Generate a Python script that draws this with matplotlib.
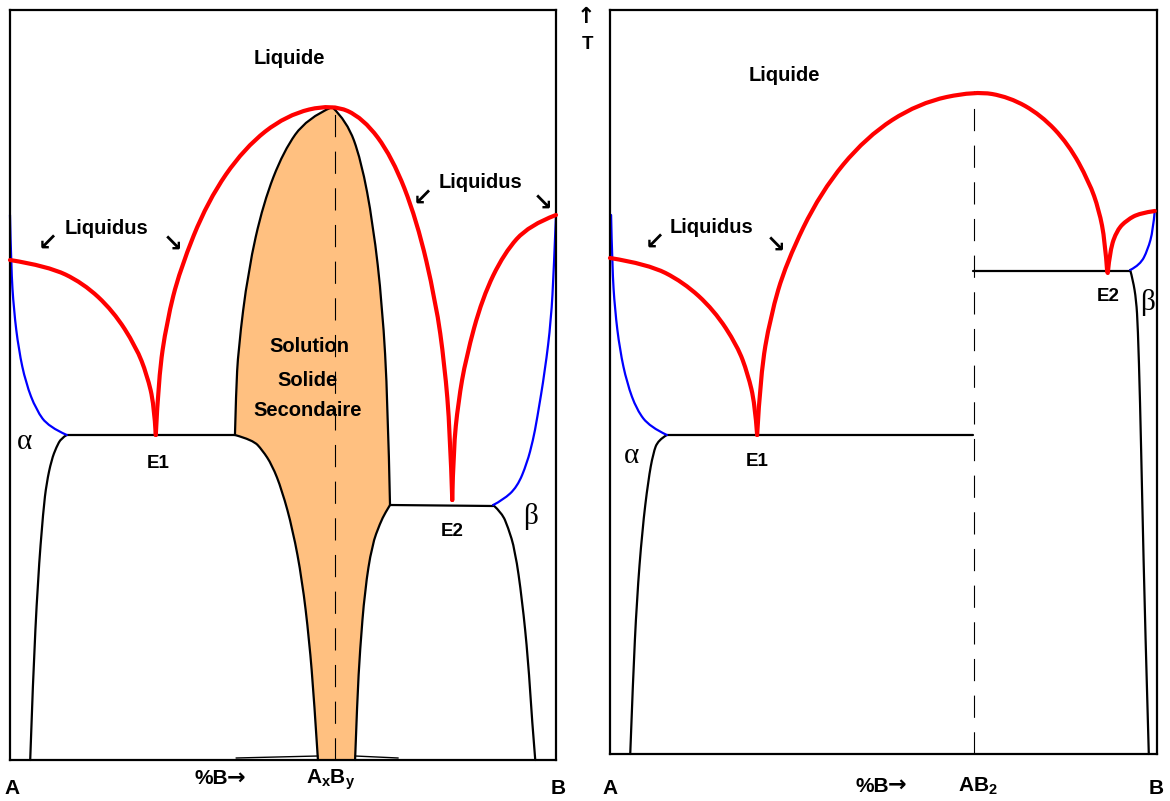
import matplotlib as mpl
from matplotlib import pyplot as plt
from matplotlib.path import Path
from matplotlib.patches import PathPatch

mpl.rc('font', family=['Liberation Sans', 'DejaVu Sans'])
mpl.rc('mathtext', fontset='custom', rm='Liberation Sans', bf='Liberation Sans:bold')

RED = '#ff0000'
BLUE = '#0000ff'
ORANGE = '#ffc080'

##############################################################
# left diagram: congruent compound AxBy with a solid solution
# composition in %B, temperature in arbitrary units
##############################################################

l_liq_a_x = [0, 6.9, 13.4, 18.9, 23.1, 25.1, 26.4, 26.7]
l_liq_a_T = [500, 494, 477, 449, 413, 385, 355, 325]

l_liq_mid_x = [26.7, 27.2, 28.7, 31.1, 36.2, 42.9, 50.6, 59.0,
               64.7, 70.0, 74.5, 78.0, 79.6, 80.6, 81.0]
l_liq_mid_T = [325, 382, 438, 490, 559, 612, 645, 656,
               642, 603, 540, 458, 395, 329, 260]

l_liq_b_x = [81.0, 81.2, 82.1, 83.5, 86.5, 90.5, 95.1, 100]
l_liq_b_T = [260, 310, 358, 402, 462, 507, 535, 545]

l_sol_a_x = [0, 0.2, 0.7, 1.6, 2.9, 4.8, 7.1, 10.4]
l_sol_a_T = [545, 493, 450, 410, 377, 350, 333, 325]

l_solv_a_x = [10.4, 9.4, 8.5, 7.6, 6.7, 6.1, 5.1, 4.2, 3.7]
l_solv_a_T = [325, 322, 313, 300, 277, 250, 180, 80, 0]

l_eut1_x = [10.4, 41.2]
l_eut1_T = [325, 325]

# intermediate solid solution, above and below the eutectics
l_ss_left_x = [41.2, 41.4, 41.8, 43.6, 46.4, 50.1, 54.4, 59.0]
l_ss_left_T = [325, 368, 410, 489, 557, 609, 642, 653]
l_ss_right_x = [59.0, 61.7, 64.3, 66.5, 68.2, 69.2, 69.6]
l_ss_right_T = [653, 639, 600, 536, 454, 358, 255]
l_ss_low_left_x = [41.2, 44.5, 46.2, 48.0, 49.8, 51.8, 53.5, 54.8, 55.7, 56.4]
l_ss_low_left_T = [325, 320, 310, 295, 270, 230, 180, 120, 60, 0]
l_ss_low_right_x = [69.6, 68.7, 67.8, 66.3, 65.0, 64.1, 63.6, 63.2]
l_ss_low_right_T = [255, 247, 237, 215, 170, 110, 60, 0]

l_foot_left_x = [41.4, 56.4]
l_foot_left_T = [2, 4]
l_foot_right_x = [63.2, 71.1]
l_foot_right_T = [4, 2]

l_eut2_x = [69.6, 88.5]
l_eut2_T = [255, 254]

l_sol_b_x = [88.5, 90.3, 92.9, 94.7, 95.8, 96.5, 98.0, 99.1, 99.6, 100]
l_sol_b_T = [255, 260, 273, 297, 320, 340, 390, 440, 490, 545]

l_solv_b_x = [88.5, 90.1, 91.2, 92.5, 93.8, 94.9, 95.6, 96.2]
l_solv_b_T = [255, 247, 233, 210, 160, 100, 40, 0]

l_compound_x = 59.5
l_compound_T = 656

##############################################################
# right diagram: compound AB2 between two eutectics
##############################################################

r_liq_a_x = [0, 6.9, 13.4, 19.0, 23.3, 25.2, 26.5, 26.9]
r_liq_a_T = [496, 490, 472, 444, 408, 380, 350, 319]

r_liq_mid_x = [26.9, 27.5, 29.3, 32.2, 38.5, 46.8, 56.4, 66.7,
               73.0, 78.8, 83.8, 87.6, 89.4, 90.5, 90.9]
r_liq_mid_T = [319, 379, 437, 491, 562, 617, 651, 663,
               657, 639, 610, 572, 544, 513, 482]

r_liq_b_x = [91.0, 91.4, 92.7, 94.5, 96.9, 99.6]
r_liq_b_T = [481, 504, 524, 534, 541, 543]

r_sol_a_x = [0.2, 0.4, 0.9, 1.8, 3.1, 4.9, 7.3, 10.4]
r_sol_a_T = [539, 487, 444, 404, 371, 344, 327, 319]

r_solv_a_x = [10.4, 8.8, 7.9, 7.0, 5.9, 4.9, 4.2, 3.7]
r_solv_a_T = [319, 314, 301, 274, 224, 154, 74, 0]

r_eut1_x = [10.4, 66.4]
r_eut1_T = [319, 319]

r_eut2_x = [66.4, 95.1]
r_eut2_T = [483, 483]

r_sol_b_x = [95.1, 96.9, 98.3, 99.3, 99.6]
r_sol_b_T = [484, 489, 504, 524, 544]

r_solv_b_x = [95.1, 95.6, 96.2, 96.5, 96.9, 97.3, 97.8, 98.5]
r_solv_b_T = [484, 474, 454, 427, 354, 254, 134, 0]

r_compound_x = 66.6
r_compound_T = 663


def smooth(x, T):
    # quadratic pieces through the midpoints, ends kept in place
    pts = list(zip(x, T))
    if len(pts) == 2:
        return [pts[0], pts[1]], [Path.MOVETO, Path.LINETO]
    verts, codes = [pts[0]], [Path.MOVETO]
    for i in range(1, len(pts) - 1):
        if i < len(pts) - 2:
            end = ((pts[i][0] + pts[i + 1][0]) / 2, (pts[i][1] + pts[i + 1][1]) / 2)
        else:
            end = pts[-1]
        verts += [pts[i], end]
        codes += [Path.CURVE3, Path.CURVE3]
    return verts, codes


def curve(ax, x, T, color='k', lw=1.6, zorder=3):
    verts, codes = smooth(x, T)
    ax.add_patch(PathPatch(Path(verts, codes), fill=False, edgecolor=color, lw=lw,
                           capstyle='round', joinstyle='round', clip_on=False,
                           zorder=zorder))


def region(ax, pieces, color):
    verts, codes = [], []
    for x, T in pieces:
        v, c = smooth(x, T)
        if codes:
            c = [Path.LINETO] + c[1:]
        verts += v
        codes += c
    verts.append(verts[0])
    codes.append(Path.CLOSEPOLY)
    ax.add_patch(PathPatch(Path(verts, codes), facecolor=color, lw=0, zorder=1))


def bold(ax, x, T, s, size=14.5, **kw):
    kw.setdefault('ha', 'center')
    ax.text(x, T, s, va='center', fontsize=size, fontweight='bold', **kw)


def arrow(ax, x, T, s, size=17):
    ax.text(x, T, s, ha='center', va='center', fontsize=size,
            fontweight='bold', family='DejaVu Sans')


def greek(ax, x, T, s):
    ax.text(x, T, s, ha='center', va='center', fontsize=21,
            family='Liberation Serif')


def setup(ax, tmax):
    ax.set_xlim(0, 100)
    ax.set_ylim(0, tmax)
    ax.set_xticks([])
    ax.set_yticks([])
    for sp in ax.spines.values():
        sp.set_linewidth(1.6)
        sp.set_zorder(5)


fig = plt.figure(figsize=(11.7, 8.01), dpi=100)
ax1 = fig.add_axes([10 / 1170, 41 / 801, 546 / 1170, 750 / 801])
ax2 = fig.add_axes([610 / 1170, 47 / 801, 547 / 1170, 744 / 801])
setup(ax1, 750)
setup(ax2, 744)

# ---------------- left ----------------
region(ax1, [(l_ss_low_left_x[::-1], l_ss_low_left_T[::-1]),
             (l_ss_left_x, l_ss_left_T),
             (l_ss_right_x, l_ss_right_T),
             (l_ss_low_right_x, l_ss_low_right_T)], ORANGE)

ax1.plot([l_compound_x, l_compound_x], [0, l_compound_T], color='k', lw=0.8,
         dashes=(20, 13), zorder=2)

for x, T in [(l_solv_a_x, l_solv_a_T), (l_eut1_x, l_eut1_T),
             (l_ss_left_x, l_ss_left_T), (l_ss_right_x, l_ss_right_T),
             (l_ss_low_left_x, l_ss_low_left_T), (l_ss_low_right_x, l_ss_low_right_T),
             (l_eut2_x, l_eut2_T), (l_solv_b_x, l_solv_b_T)]:
    curve(ax1, x, T)
curve(ax1, l_foot_left_x, l_foot_left_T, lw=1.0)
curve(ax1, l_foot_right_x, l_foot_right_T, lw=1.0)

curve(ax1, l_sol_a_x, l_sol_a_T, BLUE, 1.6, 4)
curve(ax1, l_sol_b_x, l_sol_b_T, BLUE, 1.6, 4)
curve(ax1, l_liq_a_x, l_liq_a_T, RED, 3, 6)
curve(ax1, l_liq_mid_x, l_liq_mid_T, RED, 3, 6)
curve(ax1, l_liq_b_x, l_liq_b_T, RED, 3, 6)

bold(ax1, 51.1, 702, 'Liquide')
bold(ax1, 17.6, 532, 'Liquidus')
arrow(ax1, 6.8, 516, '↙')
arrow(ax1, 29.7, 515, '↘')
bold(ax1, 86.1, 577, 'Liquidus')
arrow(ax1, 75.6, 561, '↙')
arrow(ax1, 97.6, 556, '↘')
bold(ax1, 54.9, 413, 'Solution')
bold(ax1, 54.4, 379, 'Solide')
bold(ax1, 54.6, 350, 'Secondaire')
bold(ax1, 27.1, 296, 'E1', 13.5)
bold(ax1, 81.0, 229, 'E2', 13.5)
greek(ax1, 2.6, 318, 'α')
greek(ax1, 95.4, 243, 'β')

bold(ax1, 0.4, -29, 'A', 15)
bold(ax1, 33.7, -19, '%B', 15, ha='left')
arrow(ax1, 41.4, -18, '→', 16)
bold(ax1, 58.8, -20, r'$\mathbf{A_{x}B_{y}}$', 15)
bold(ax1, 100.4, -29, 'B', 15)

# ---------------- right ----------------
ax2.plot([r_compound_x, r_compound_x], [0, r_compound_T], color='k', lw=0.8,
         dashes=(20, 13), zorder=2)

for x, T in [(r_solv_a_x, r_solv_a_T), (r_eut1_x, r_eut1_T),
             (r_eut2_x, r_eut2_T), (r_solv_b_x, r_solv_b_T)]:
    curve(ax2, x, T)

curve(ax2, r_sol_a_x, r_sol_a_T, BLUE, 1.6, 4)
curve(ax2, r_sol_b_x, r_sol_b_T, BLUE, 1.6, 4)
curve(ax2, r_liq_a_x, r_liq_a_T, RED, 3, 6)
curve(ax2, r_liq_mid_x, r_liq_mid_T, RED, 3, 6)
curve(ax2, r_liq_b_x, r_liq_b_T, RED, 3, 6)

bold(ax2, 31.8, 678, 'Liquide')
bold(ax2, 18.6, 526, 'Liquidus')
arrow(ax2, 8.2, 511, '↙')
arrow(ax2, 30.2, 508, '↘')
bold(ax2, 26.9, 292, 'E1', 13.5)
bold(ax2, 91.0, 457, 'E2', 13.5)
greek(ax2, 4.0, 298, 'α')
greek(ax2, 98.2, 451, 'β')

arrow(ax2, -4.4, 737, '↑', 16)
bold(ax2, -4.2, 709, 'T', 13.5)

bold(ax2, 0, -35, 'A', 15)
bold(ax2, 44.9, -32, '%B', 15, ha='left')
arrow(ax2, 52.4, -31, '→', 16)
bold(ax2, 67.3, -32, r'$\mathbf{AB_{2}}$', 15)
bold(ax2, 99.8, -35, 'B', 15)

fig.savefig('out.png', dpi=100, facecolor='white')
